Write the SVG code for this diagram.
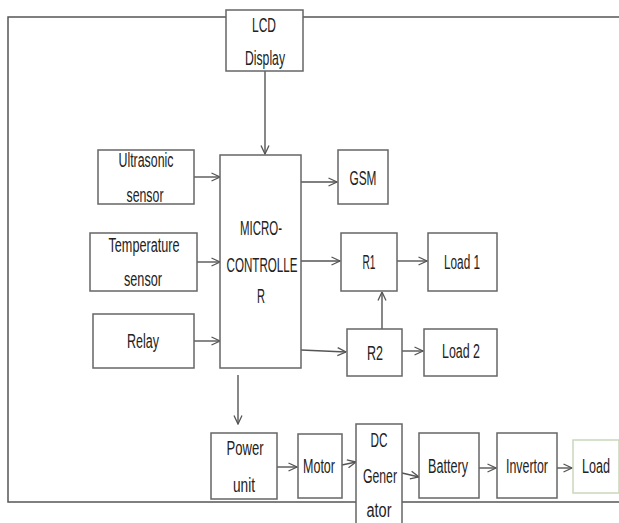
<svg xmlns="http://www.w3.org/2000/svg" width="619" height="523" viewBox="0 0 619 523">
<defs>
<style>
.b{fill:#fff;stroke:#666;stroke-width:1.5}
.t{font-family:"Liberation Sans",Arial,sans-serif;font-size:20px;fill:#222;text-anchor:middle}
.c{fill:none;stroke:#555;stroke-width:1.4}
</style>
<marker id="a" viewBox="0 0 10 10" refX="9.5" refY="5" markerWidth="10" markerHeight="10" markerUnits="userSpaceOnUse" orient="auto">
<polyline points="1,1 9.5,5 1,9" fill="none" stroke="#555" stroke-width="1.3"/>
</marker>
</defs>
<rect width="619" height="523" fill="#fff"/>
<path d="M619,17 H8 V502 H619" fill="none" stroke="#555" stroke-width="1.5"/>
<g id="connectors">
<line class="c" x1="265" y1="71" x2="265" y2="154" marker-end="url(#a)"/>
<line class="c" x1="194" y1="177" x2="220" y2="177" marker-end="url(#a)"/>
<line class="c" x1="197" y1="262" x2="220" y2="262" marker-end="url(#a)"/>
<line class="c" x1="194" y1="341" x2="220" y2="341" marker-end="url(#a)"/>
<line class="c" x1="298" y1="182" x2="337" y2="182" marker-end="url(#a)"/>
<line class="c" x1="301" y1="261" x2="340" y2="261" marker-end="url(#a)"/>
<line class="c" x1="301" y1="350" x2="346" y2="352" marker-end="url(#a)"/>
<line class="c" x1="397" y1="261" x2="427" y2="261" marker-end="url(#a)"/>
<line class="c" x1="382" y1="329" x2="382" y2="292" marker-end="url(#a)"/>
<line class="c" x1="402" y1="351" x2="423" y2="351" marker-end="url(#a)"/>
<line class="c" x1="238" y1="375" x2="238" y2="424" marker-end="url(#a)"/>
<line class="c" x1="277" y1="467" x2="297" y2="467" marker-end="url(#a)"/>
<line class="c" x1="342" y1="465" x2="356" y2="462" marker-end="url(#a)"/>
<line class="c" x1="402" y1="473" x2="419" y2="477" marker-end="url(#a)"/>
<line class="c" x1="479" y1="468" x2="496" y2="468" marker-end="url(#a)"/>
<line class="c" x1="557" y1="468" x2="572" y2="468" marker-end="url(#a)"/>
</g>
<g id="lcd"><rect class="b" x="226" y="10" width="77" height="61"/>
<text class="t" x="264" y="32" textLength="24" lengthAdjust="spacingAndGlyphs">LCD</text>
<text class="t" x="265" y="65" textLength="40" lengthAdjust="spacingAndGlyphs">Display</text></g>
<g id="ultrasonic"><rect class="b" x="98" y="150" width="96" height="54"/>
<text class="t" x="146" y="167" textLength="55" lengthAdjust="spacingAndGlyphs">Ultrasonic</text>
<text class="t" x="145" y="202" textLength="37" lengthAdjust="spacingAndGlyphs">sensor</text></g>
<g id="temperature"><rect class="b" x="90" y="233" width="107" height="58"/>
<text class="t" x="144" y="252" textLength="71" lengthAdjust="spacingAndGlyphs">Temperature</text>
<text class="t" x="143" y="286" textLength="38" lengthAdjust="spacingAndGlyphs">sensor</text></g>
<g id="relay"><rect class="b" x="93" y="314" width="101" height="54"/>
<text class="t" x="143" y="348" textLength="32" lengthAdjust="spacingAndGlyphs">Relay</text></g>
<g id="micro"><rect class="b" x="220" y="155" width="81" height="213"/>
<text class="t" x="261" y="235" textLength="42" lengthAdjust="spacingAndGlyphs">MICRO-</text>
<text class="t" x="262" y="272" textLength="71" lengthAdjust="spacingAndGlyphs">CONTROLLE</text>
<text class="t" x="261" y="303" textLength="8" lengthAdjust="spacingAndGlyphs">R</text></g>
<g id="gsm"><rect class="b" x="338" y="150" width="50" height="54"/>
<text class="t" x="363" y="185" textLength="27" lengthAdjust="spacingAndGlyphs">GSM</text></g>
<g id="r1"><rect class="b" x="341" y="233" width="56" height="58"/>
<text class="t" x="369" y="269" textLength="13" lengthAdjust="spacingAndGlyphs">R1</text></g>
<g id="load1"><rect class="b" x="428" y="233" width="69" height="58"/>
<text class="t" x="462" y="269" textLength="36" lengthAdjust="spacingAndGlyphs">Load 1</text></g>
<g id="r2"><rect class="b" x="347" y="329" width="55" height="47"/>
<text class="t" x="375" y="360" textLength="16" lengthAdjust="spacingAndGlyphs">R2</text></g>
<g id="load2"><rect class="b" x="424" y="329" width="73" height="47"/>
<text class="t" x="461" y="358" textLength="38" lengthAdjust="spacingAndGlyphs">Load 2</text></g>
<g id="power"><rect class="b" x="211" y="433" width="66" height="66"/>
<text class="t" x="245" y="455" textLength="37" lengthAdjust="spacingAndGlyphs">Power</text>
<text class="t" x="244" y="492" textLength="22" lengthAdjust="spacingAndGlyphs">unit</text></g>
<g id="motor"><rect class="b" x="298" y="434" width="44" height="64"/>
<text class="t" x="319" y="473" textLength="32" lengthAdjust="spacingAndGlyphs">Motor</text></g>
<g id="dcgen"><rect class="b" x="356" y="424" width="46" height="104"/>
<text class="t" x="379" y="447" textLength="17" lengthAdjust="spacingAndGlyphs">DC</text>
<text class="t" x="380" y="483" textLength="34" lengthAdjust="spacingAndGlyphs">Gener</text>
<text class="t" x="379" y="517" textLength="25" lengthAdjust="spacingAndGlyphs">ator</text></g>
<g id="battery"><rect class="b" x="419" y="433" width="60" height="65"/>
<text class="t" x="448" y="473" textLength="40" lengthAdjust="spacingAndGlyphs">Battery</text></g>
<g id="invertor"><rect class="b" x="497" y="433" width="60" height="65"/>
<text class="t" x="527" y="473" textLength="42" lengthAdjust="spacingAndGlyphs">Invertor</text></g>
<g id="load"><path d="M619,440 H573 V493 H619 Z" fill="#fff" stroke="#c9d8bc" stroke-width="1.5"/>
<text class="t" x="596" y="473" font-size="19" textLength="28" lengthAdjust="spacingAndGlyphs">Load</text></g>
</svg>
